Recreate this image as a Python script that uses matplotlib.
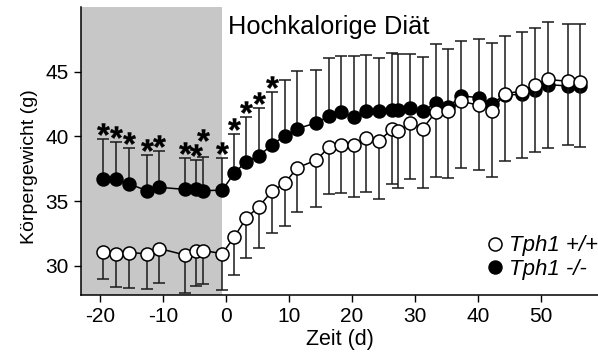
import matplotlib
matplotlib.use("Agg")
import numpy as np
import matplotlib.pyplot as plt
from matplotlib.lines import Line2D
from matplotlib.transforms import ScaledTranslation
from matplotlib.textpath import TextPath
from matplotlib.font_manager import FontProperties
from matplotlib.path import Path

plt.rcParams['font.family'] = ['Liberation Sans', 'DejaVu Sans']

# ---- data ----
days = [-19.6, -17.5, -15.4, -12.5, -10.6, -6.6, -4.7, -3.6, -0.6,
        1.3, 3.2, 5.2, 7.3, 9.3, 11.3, 14.3, 16.3, 18.3, 20.3, 22.2,
        24.3, 26.3, 27.3, 29.2, 31.2, 33.3, 35.3, 37.3, 40.1, 42.2,
        44.2, 47.0, 49.0, 51.1, 54.3, 56.2]
ko_mean = [36.71, 36.68, 36.32, 35.81, 36.07, 35.91, 35.91, 35.81, 35.85,
           37.17, 38.05, 38.50, 39.35, 40.05, 40.60, 41.05, 41.56, 41.85, 41.51, 41.95,
           41.95, 42.03, 42.03, 42.20, 41.95, 42.59, 42.28, 43.13, 43.00, 42.54,
           43.20, 43.25, 43.57, 44.00, 43.90, 43.90]
ko_sd = [3.06, 2.90, 2.75, 2.79, 2.83, 2.44, 2.24, 2.62, 2.51,
         3.01, 3.46, 3.66, 4.09, 4.29, 4.43, 4.11, 4.50, 4.36, 4.70, 4.37,
         4.14, 4.44, 4.37, 4.20, 4.21, 4.53, 4.48, 4.27, 4.53, 4.66,
         4.56, 4.79, 4.78, 4.86, 4.78, 4.78]
wt_mean = [31.10, 30.93, 31.03, 30.93, 31.34, 30.85, 31.18, 31.18, 30.95,
           32.23, 33.70, 34.57, 35.78, 36.38, 37.58, 38.17, 39.15, 39.33, 39.33, 39.85,
           39.66, 40.55, 40.45, 41.00, 40.60, 41.90, 41.95, 42.72, 42.41, 41.97,
           43.31, 43.50, 44.00, 44.40, 44.26, 44.20]
wt_sd = [2.10, 2.53, 2.75, 2.73, 2.63, 2.95, 2.72, 2.59, 2.85,
         2.93, 3.06, 3.16, 3.26, 3.28, 3.44, 3.60, 3.60, 3.73, 3.99, 4.12,
         4.52, 4.25, 4.41, 4.32, 4.61, 5.02, 5.15, 5.14, 5.01, 5.13,
         5.19, 5.15, 5.19, 5.28, 4.93, 5.05]
n_signif = 13          # first 13 time points marked with *
star_lift_px = [0, 0, 0, 0, 0, 0, 0, 12, 0, 0, 0, 0, 0]
diet_start_index = 8
yticks = [30, 35, 40, 45]
xticks = [-20, -10, 0, 10, 20, 30, 40, 50]
labels = ['Tph1 +/+', 'Tph1 -/-']

# ---- asterisk marker built from the font glyph, centred ----
tp = TextPath((0, 0), '*', size=10, prop=FontProperties(family='Liberation Sans', weight='bold'))
codes = np.asarray(tp.codes)
v = np.asarray(tp.vertices, dtype=float).copy()
real = codes != Path.CLOSEPOLY
v -= (v[real].min(axis=0) + v[real].max(axis=0)) / 2
v[~real] = 0.0
star_marker = Path(v, codes)

# ---- figure ----
W, H = 598, 354
fig = plt.figure(figsize=(W / 100, H / 100), dpi=100)
ax = fig.add_axes([81 / W, 1 - 295 / H, 1 - 81 / W, (295 - 7) / H])
xlim = (-23.03, 59.03)
ax.set_xlim(*xlim)
ax.set_ylim(27.75, 50.0)

ax.axvspan(xlim[0], days[diet_start_index], color='#c7c7c7', zorder=0, lw=0)

ms = 9.4
# KO (filled) : error bars upward
ax.errorbar(days, ko_mean, yerr=[[0] * len(ko_sd), ko_sd], fmt='none',
            ecolor='#1a1a1a', elinewidth=1.1, capsize=4.0, capthick=1.1, zorder=2)
ax.plot(days, ko_mean, '-', color='black', lw=1.1, marker='o', ms=ms,
        mfc='black', mec='black', mew=1.0, zorder=3)
# WT (open) : error bars downward
ax.errorbar(days, wt_mean, yerr=[wt_sd, [0] * len(wt_sd)], fmt='none',
            ecolor='#1a1a1a', elinewidth=1.1, capsize=4.0, capthick=1.1, zorder=4)
ax.plot(days, wt_mean, '-', color='black', lw=1.1, marker='o', ms=ms,
        mfc='white', mec='black', mew=1.1, zorder=5)

# significance stars
for i in range(n_signif):
    tr = ax.transData + ScaledTranslation(0, (10 + star_lift_px[i]) / 100, fig.dpi_scale_trans)
    ax.plot([days[i]], [ko_mean[i] + ko_sd[i]], linestyle='none', marker=star_marker,
            ms=9.0, mfc='black', mec='black', mew=0.3, transform=tr, zorder=6, clip_on=False)

for s in ['top', 'right']:
    ax.spines[s].set_visible(False)
for s in ['left', 'bottom']:
    ax.spines[s].set_linewidth(1.1)
ax.set_xticks(xticks)
ax.set_xticklabels([str(t) for t in xticks])
ax.set_yticks(yticks)
ax.tick_params(axis='both', labelsize=15, length=5, width=1.0, direction='out', pad=4)
ax.set_xlabel('Zeit (d)', fontsize=15.5, labelpad=2)
ax.set_ylabel('Körpergewicht (g)', fontsize=14)
ax.yaxis.set_label_coords(-0.083, 0.445)

fig.text(228 / W, 1 - 34.3 / H, 'Hochkalorige Diät', fontsize=18.3, va='baseline', ha='left')

handles = [Line2D([], [], linestyle='none', marker='o', ms=ms, mfc='white', mec='black', mew=1.1),
           Line2D([], [], linestyle='none', marker='o', ms=ms, mfc='black', mec='black', mew=1.0)]
leg = ax.legend(handles, labels, loc='lower right', bbox_to_anchor=(1.0, 1 - 280 / H),
                bbox_transform=fig.transFigure, frameon=False, borderpad=0,
                borderaxespad=0, handlelength=0.8, handletextpad=0.25,
                labelspacing=0.12, prop={'size': 16, 'style': 'italic'})

fig.savefig('out.png', dpi=100)
